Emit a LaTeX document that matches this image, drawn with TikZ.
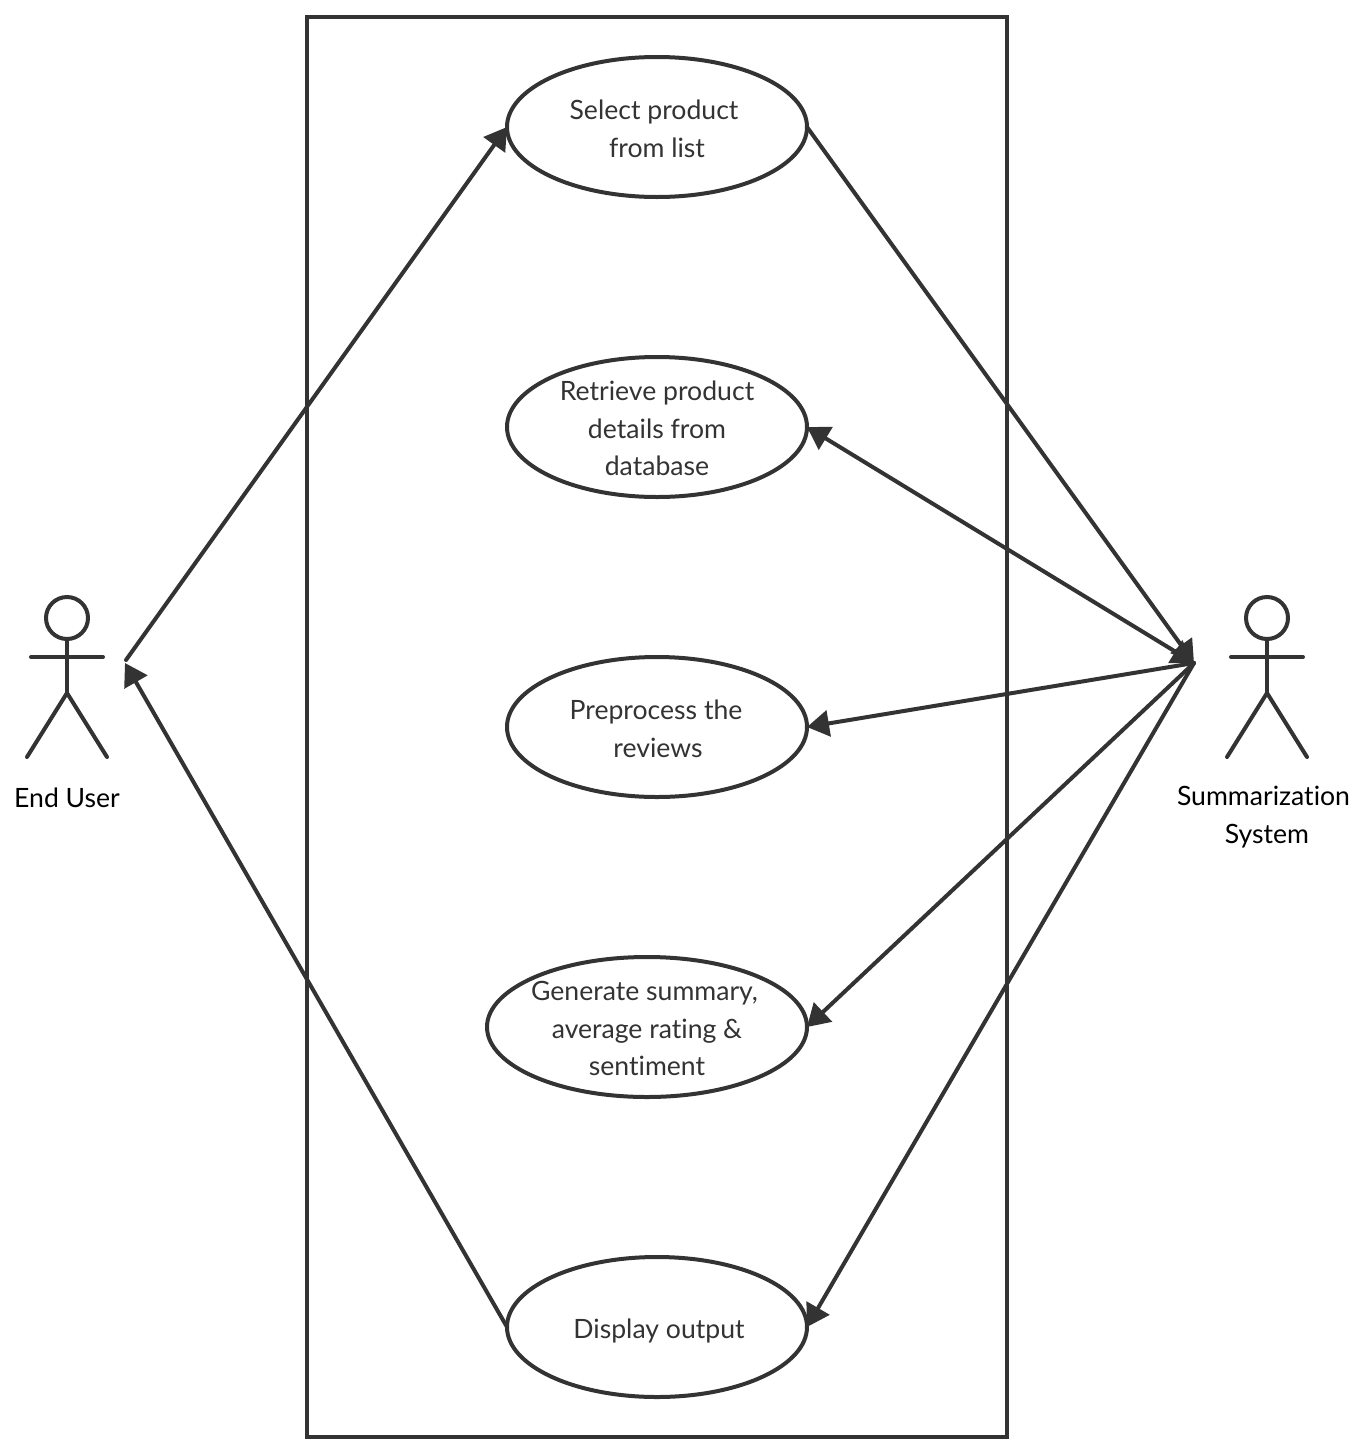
\documentclass[tikz,border=0pt]{standalone}
\usepackage{fontspec}
\setmainfont{Lato}[Ligatures=NoCommon]
\usetikzlibrary{arrows.meta,shapes.geometric}
\definecolor{inkgray}{HTML}{333333}
\tikzset{
	>={Triangle[length=22pt,width=26pt,inset=0pt]},
	usecase/.style={draw=inkgray,line width=4pt,shape=ellipse,inner sep=0pt,outer sep=0pt,minimum width=300pt,minimum height=140pt},
	usetext/.style={align=center,inner sep=0pt,font=\fontsize{26.6}{37.5}\selectfont,text=inkgray},
	assoc/.style={draw=inkgray,line width=4pt,line cap=round},
	actorline/.style={draw=inkgray,line width=4pt,line cap=round,line join=round},
	actorname/.style={align=center,font=\fontsize{26.6}{38}\selectfont,text=black,inner sep=0pt}
}
\begin{document}
\begin{tikzpicture}[x=1pt,y=-1pt]
	\useasboundingbox (0,0) rectangle (1359,1446);
	\node[draw=inkgray,line width=4pt,inner sep=0pt,outer sep=0pt,minimum width=700pt,minimum height=1420pt] (boundary) at (657,727) {};
	\node[usecase] (select) at (657,127) {};
	\node[usecase] (retrieve) at (657,427) {};
	\node[usecase] (preprocess) at (657,727) {};
	\node[usecase,minimum width=320pt] (generate) at (647,1027) {};
	\node[usecase] (display) at (657,1327) {};
	\node[usetext] (selecttext) at (657,129) {Select product\hspace*{6pt}\\from list};
	\node[usetext] (retrievetext) at (657,428.5) {Retrieve product\\details from\hspace*{6pt}\\database};
	\node[usetext] (preprocesstext) at (658,729) {Preprocess the\hspace*{4pt}\\reviews};
	\node[usetext] (generatetext) at (647,1028.5) {Generate summary,\hspace*{5pt}\\average rating \&\\sentiment};
	\node[usetext] (displaytext) at (659,1331) {Display output};
	\foreach \x/\name in {67/user,1267/system}{
		\node[actorline,shape=circle,inner sep=0pt,outer sep=0pt,minimum size=42pt] (\name head) at (\x,618) {};
		\coordinate (\name hip) at (\x,693);
		\draw[actorline] (\name head.south) -- (\name hip);
		\draw[actorline] (\x-36,657) -- (\x+36,657);
		\draw[actorline] (\x-40,757) -- (\name hip) -- (\x+40,757);
	}
	\node[actorname] (username) at (67,798) {End User};
	\node[actorname] (systemname) at (1267,817) {Summarization\hspace*{7pt}\\System};
	\coordinate (userout) at (126,660);
	\coordinate (userin) at (125,663);
	\coordinate (systemport) at (1194,663);
	\draw[assoc,->] (userout) -- (select.west);
	\draw[assoc,->] (select.east) -- (systemport);
	\draw[assoc,<->] (retrieve.east) -- (systemport);
	\draw[assoc,->] (systemport) -- (preprocess.east);
	\draw[assoc,->] (systemport) -- (generate.east);
	\draw[assoc,->] (systemport) -- (display.east);
	\draw[assoc,->] (display.west) -- (userin);
\end{tikzpicture}
\end{document}
